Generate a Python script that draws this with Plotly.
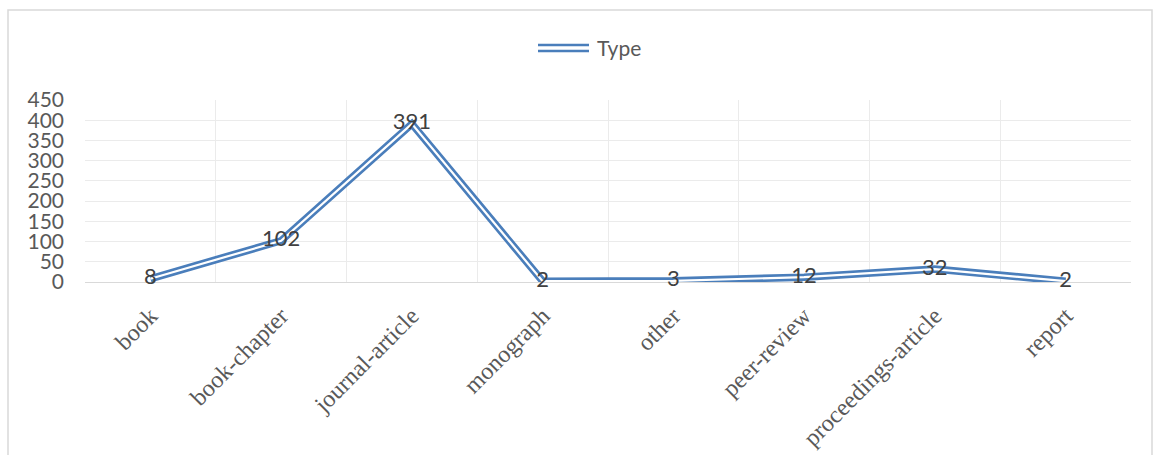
import plotly.graph_objects as go

categories = ["book", "book-chapter", "journal-article", "monograph", "other",
              "peer-review", "proceedings-article", "report"]
values = [8, 102, 391, 2, 3, 12, 32, 2]
y_ticks = [0, 50, 100, 150, 200, 250, 300, 350, 400, 450]
series_name = "Type"

W, H = 1153, 455
L, R, T, B = 85, 22, 100, 173

BLUE = "#4a7ebb"
fig = go.Figure()
fig.add_trace(go.Scatter(x=categories, y=values, mode="lines", name=series_name,
                         line=dict(color=BLUE, width=7.5), showlegend=False,
                         hoverinfo="skip", cliponaxis=False))
fig.add_trace(go.Scatter(x=categories, y=values, mode="lines+text", name=series_name,
                         line=dict(color="white", width=2.2), showlegend=False,
                         text=[str(v) for v in values], textposition="middle center",
                         cliponaxis=False,
                         textfont=dict(family="Lato", size=22, color="#404040")))

fig.update_layout(
    width=W, height=H,
    margin=dict(l=L, r=R, t=T, b=B, autoexpand=False),
    paper_bgcolor="white", plot_bgcolor="white",
    showlegend=False,
    xaxis=dict(type="category", tickson="boundaries", showgrid=True,
               gridcolor="#ebebeb", gridwidth=1, tickangle=-45,
               ticks="", showline=False, zeroline=False,
               tickfont=dict(family="Liberation Serif", size=24, color="#595959"),
               ticklabelstandoff=14, range=[-0.5, 7.5], automargin=False),
    yaxis=dict(range=[0, 450], tickvals=y_ticks, showgrid=True, gridcolor="#ebebeb",
               gridwidth=1, zeroline=True, zerolinecolor="#d9d9d9", zerolinewidth=1,
               tickfont=dict(family="Lato", size=21, color="#595959"),
               ticks="", ticklabelstandoff=20, automargin=False),
    shapes=[
        dict(type="rect", xref="paper", yref="paper",
             x0=(8 - L) / (W - L - R), x1=(1152 - L) / (W - L - R),
             y0=(H - B - 470) / (H - T - B), y1=(H - B - 10) / (H - T - B),
             line=dict(color="#d9d9d9", width=1.5), layer="below"),
        dict(type="line", xref="paper", yref="paper",
             x0=(538 - L) / (W - L - R), x1=(589 - L) / (W - L - R),
             y0=(H - B - 45) / (H - T - B), y1=(H - B - 45) / (H - T - B),
             line=dict(color=BLUE, width=2.5)),
        dict(type="line", xref="paper", yref="paper",
             x0=(538 - L) / (W - L - R), x1=(589 - L) / (W - L - R),
             y0=(H - B - 51) / (H - T - B), y1=(H - B - 51) / (H - T - B),
             line=dict(color=BLUE, width=2.5)),
    ],
    annotations=[
        dict(text=series_name, xref="paper", yref="paper", showarrow=False,
             x=(595 - L) / (W - L - R), y=(H - B - 48) / (H - T - B),
             xanchor="left", yanchor="middle",
             font=dict(family="Lato", size=21, color="#595959")),
    ],
)

fig.write_html("out.html")
